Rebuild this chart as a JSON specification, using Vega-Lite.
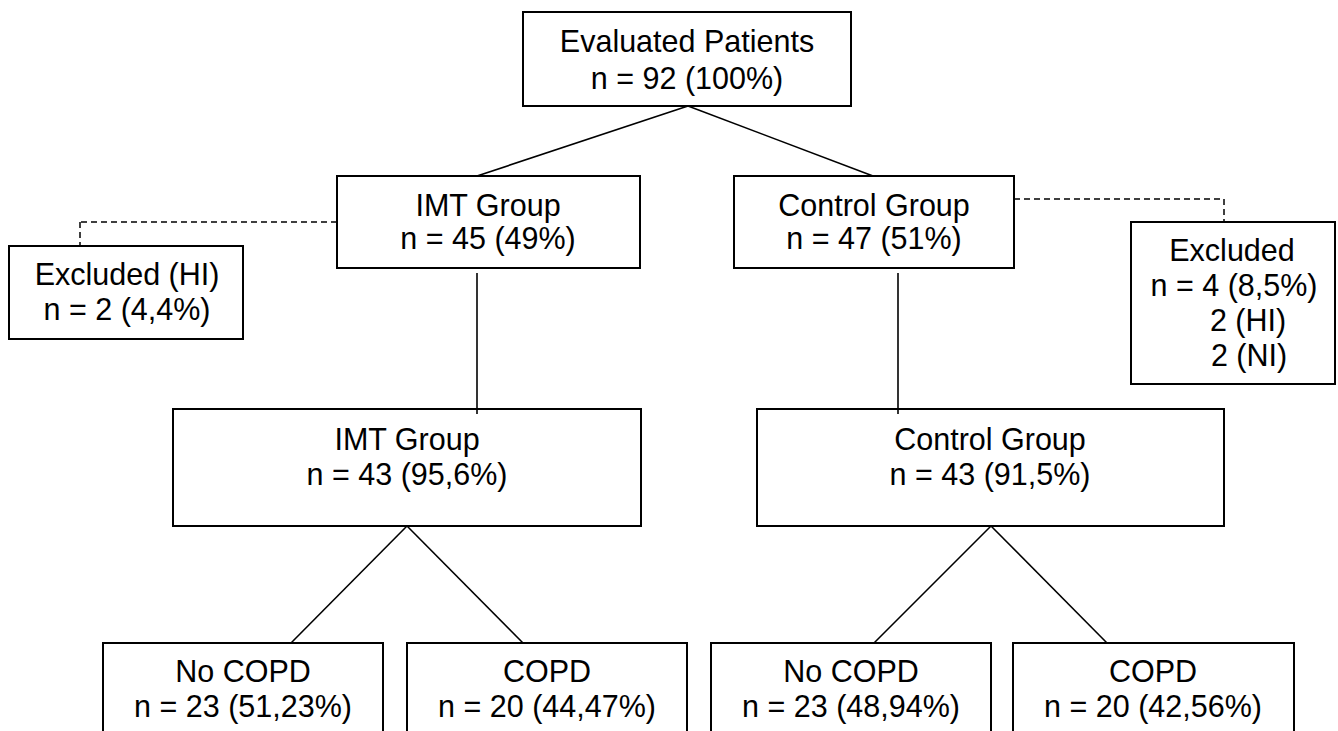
{
  "$schema": "https://vega.github.io/schema/vega-lite/v6.json",
  "width": 1338,
  "height": 731,
  "autosize": {"type": "fit", "contains": "padding"},
  "padding": 0,
  "background": "white",
  "config": {"view": {"stroke": null}},
  "datasets": {
    "boxes": [
      {"xa": 523, "xb": 851, "ya": 12, "yb": 106},
      {"xa": 337, "xb": 640, "ya": 176, "yb": 268},
      {"xa": 734, "xb": 1014, "ya": 176, "yb": 268},
      {"xa": 9, "xb": 243, "ya": 246, "yb": 339},
      {"xa": 1131, "xb": 1335, "ya": 222, "yb": 384},
      {"xa": 173, "xb": 641, "ya": 409, "yb": 526},
      {"xa": 757, "xb": 1224, "ya": 409, "yb": 526},
      {"xa": 103, "xb": 383, "ya": 643, "yb": 760},
      {"xa": 407, "xb": 687, "ya": 643, "yb": 760},
      {"xa": 711, "xb": 991, "ya": 643, "yb": 760},
      {"xa": 1013, "xb": 1294, "ya": 643, "yb": 760}
    ],
    "lines": [
      {"xa": 688, "ya": 106, "xb": 477, "yb": 176, "kind": "solid"},
      {"xa": 688, "ya": 106, "xb": 873, "yb": 176, "kind": "solid"},
      {"xa": 477, "ya": 273, "xb": 477, "yb": 414, "kind": "solid"},
      {"xa": 898, "ya": 273, "xb": 898, "yb": 414, "kind": "solid"},
      {"xa": 407, "ya": 526, "xb": 291, "yb": 643, "kind": "solid"},
      {"xa": 407, "ya": 526, "xb": 523, "yb": 643, "kind": "solid"},
      {"xa": 991, "ya": 526, "xb": 874, "yb": 643, "kind": "solid"},
      {"xa": 991, "ya": 526, "xb": 1107, "yb": 643, "kind": "solid"},
      {"xa": 337, "ya": 222, "xb": 80, "yb": 222, "kind": "dashed"},
      {"xa": 80, "ya": 222, "xb": 80, "yb": 246, "kind": "dashed"},
      {"xa": 1014, "ya": 199, "xb": 1224, "yb": 199, "kind": "dashed"},
      {"xa": 1224, "ya": 199, "xb": 1224, "yb": 222, "kind": "dashed"}
    ],
    "labels": [
      {"t": "Evaluated Patients", "x": 687, "y": 43},
      {"t": "n = 92 (100%)", "x": 687, "y": 80},
      {"t": "IMT Group", "x": 488, "y": 207},
      {"t": "n = 45 (49%)", "x": 488, "y": 240},
      {"t": "Control Group", "x": 874, "y": 207},
      {"t": "n = 47 (51%)", "x": 874, "y": 240},
      {"t": "Excluded (HI)", "x": 127, "y": 276},
      {"t": "n = 2 (4,4%)", "x": 127, "y": 311},
      {"t": "Excluded", "x": 1232, "y": 252},
      {"t": "n = 4 (8,5%)", "x": 1234, "y": 287},
      {"t": "2 (HI)", "x": 1248, "y": 322},
      {"t": "2 (NI)", "x": 1249, "y": 357},
      {"t": "IMT Group", "x": 407, "y": 441},
      {"t": "n = 43 (95,6%)", "x": 407, "y": 476},
      {"t": "Control Group", "x": 990, "y": 441},
      {"t": "n = 43 (91,5%)", "x": 990, "y": 476},
      {"t": "No COPD", "x": 243, "y": 673},
      {"t": "n = 23 (51,23%)", "x": 243, "y": 708},
      {"t": "COPD", "x": 547, "y": 673},
      {"t": "n = 20 (44,47%)", "x": 547, "y": 708},
      {"t": "No COPD", "x": 851, "y": 673},
      {"t": "n = 23 (48,94%)", "x": 851, "y": 708},
      {"t": "COPD", "x": 1153, "y": 673},
      {"t": "n = 20 (42,56%)", "x": 1153, "y": 708}
    ]
  },
  "resolve": {"scale": {"x": "shared", "y": "shared"}},
  "layer": [
    {
      "data": {"name": "boxes"},
      "mark": {"type": "rect", "fill": "white", "stroke": "black", "strokeWidth": 2, "clip": true},
      "encoding": {
        "x": {"field": "xa", "type": "quantitative", "scale": {"domain": [0, 1338], "nice": false, "zero": false}, "axis": null},
        "x2": {"field": "xb"},
        "y": {"field": "ya", "type": "quantitative", "scale": {"domain": [0, 731], "nice": false, "zero": false, "reverse": true}, "axis": null},
        "y2": {"field": "yb"}
      }
    },
    {
      "data": {"name": "lines"},
      "transform": [{"filter": "datum.kind === 'solid'"}],
      "mark": {"type": "rule", "stroke": "black", "strokeWidth": 1.6},
      "encoding": {
        "x": {"field": "xa", "type": "quantitative", "axis": null},
        "x2": {"field": "xb"},
        "y": {"field": "ya", "type": "quantitative", "axis": null},
        "y2": {"field": "yb"}
      }
    },
    {
      "data": {"name": "lines"},
      "transform": [{"filter": "datum.kind === 'dashed'"}],
      "mark": {"type": "rule", "stroke": "black", "strokeWidth": 1.5, "strokeDash": [6, 4]},
      "encoding": {
        "x": {"field": "xa", "type": "quantitative", "axis": null},
        "x2": {"field": "xb"},
        "y": {"field": "ya", "type": "quantitative", "axis": null},
        "y2": {"field": "yb"}
      }
    },
    {
      "data": {"name": "labels"},
      "mark": {"type": "text", "font": "Liberation Sans", "fontSize": 30.5, "align": "center", "baseline": "middle", "color": "black"},
      "encoding": {
        "x": {"field": "x", "type": "quantitative", "axis": null},
        "y": {"field": "y", "type": "quantitative", "axis": null},
        "text": {"field": "t"}
      }
    }
  ]
}
